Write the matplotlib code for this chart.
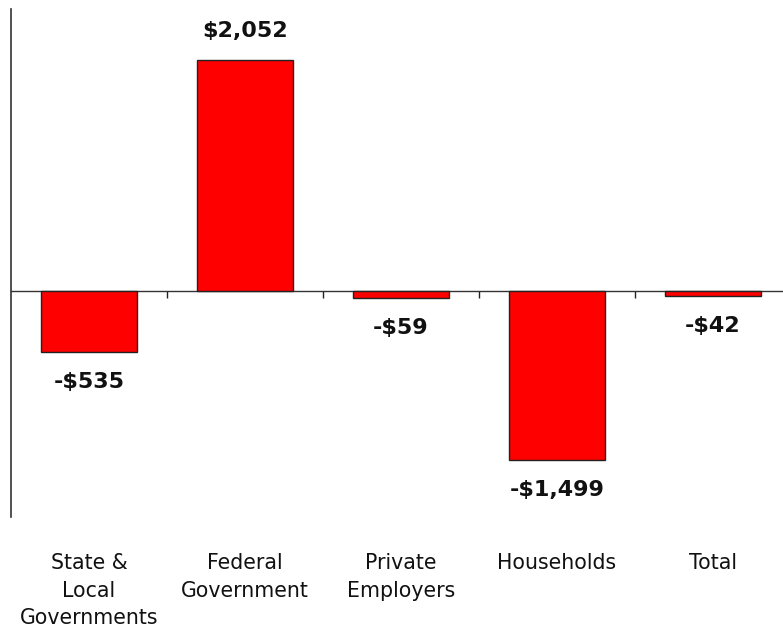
import matplotlib
matplotlib.use("Agg")
import matplotlib.pyplot as plt
from matplotlib.transforms import blended_transform_factory, ScaledTranslation

categories = ["State &\nLocal\nGovernments", "Federal\nGovernment", "Private\nEmployers", "Households", "Total"]
values = [-535, 2052, -59, -1499, -42]
value_labels = ["-$535", "$2,052", "-$59", "-$1,499", "-$42"]

W, H = 783, 630
fig = plt.figure(figsize=(W / 100, H / 100), dpi=100)
ax = fig.add_axes([11 / W, (H - 517) / H, 780 / W, 508 / H])

x = list(range(len(categories)))
ax.bar(x, values, width=0.62, color="#FF0000", edgecolor="#222222", linewidth=1.0, zorder=3)

ax.set_xlim(-0.5, 4.5)
ax.set_ylim(-2000, 2500)

for s in ["top", "right"]:
    ax.spines[s].set_visible(False)
ax.spines["left"].set_color("#333333")
ax.spines["left"].set_linewidth(1.2)
ax.spines["bottom"].set_position(("data", 0))
ax.spines["bottom"].set_color("#333333")
ax.spines["bottom"].set_linewidth(1.0)
ax.set_yticks([])
ax.set_xticks([0.5, 1.5, 2.5, 3.5])
ax.set_xticklabels([])
ax.tick_params(axis="x", direction="out", length=5, width=1.0, color="#222222")

for i, (v, lab) in enumerate(zip(values, value_labels)):
    off = 29 if v > 0 else -30
    ax.annotate(lab, xy=(i, v), xytext=(0, off), textcoords="offset pixels",
                ha="center", va="center", fontsize=16, fontweight="bold",
                color="#111111", fontfamily="DejaVu Sans")

trans = blended_transform_factory(ax.transData, ax.transAxes) + \
    ScaledTranslation(0, -36 / 100, fig.dpi_scale_trans)
for i, c in enumerate(categories):
    ax.text(i, 0, c, transform=trans, ha="center", va="top",
            fontsize=14.8, color="#111111", linespacing=1.48,
            fontfamily="DejaVu Sans")

fig.savefig("out.png", dpi=100)
